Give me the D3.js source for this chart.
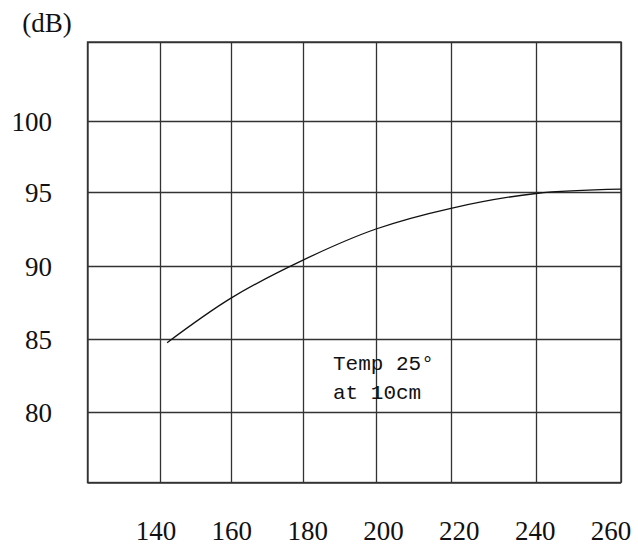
<!DOCTYPE html>
<html>
<head>
<meta charset="utf-8">
<script src="https://cdn.jsdelivr.net/npm/d3@7"></script>
<style>
  body { margin: 0; background: #fff; }
  svg { display: block; }
</style>
</head>
<body>
<div id="chart"></div>
<script>
// SPL vs frequency curve (grid chart)

const xGrid = [120, 140, 160, 180, 200, 220, 240, 260];
const xLabels = [140, 160, 180, 200, 220, 240, 260];
const yGrid = [75, 80, 85, 90, 95, 100, 105];
const yLabels = [80, 85, 90, 95, 100];

const freq = [142, 160, 180, 200, 220, 240, 260];
const spl  = [84.75, 87.8, 90.4, 92.5, 93.9, 94.9, 95.2];

const noteLines = ["Temp 25°", "at 10cm"];

const width = 638, height = 545;

const svg = d3.select("#chart")
    .append("svg")
    .attr("width", width)
    .attr("height", height);

// the printed grid is not evenly spaced, so the scales are piecewise
const x = d3.scaleLinear()
    .domain(xGrid)
    .range([87.5, 160, 231, 303, 376, 451, 536, 621]);

// tick labels in the original sit on their own even spacing
const xLab = d3.scaleLinear()
    .domain([140, 260])
    .range([156, 611]);

const y = d3.scaleLinear()
    .domain(yGrid)
    .range([482.5, 412, 339, 266, 192, 121, 42]);

const plotTop = y(105), plotBottom = y(75), plotLeft = x(120), plotRight = x(260);

// vertical grid
svg.append("g")
    .attr("transform", `translate(0,${plotBottom})`)
    .call(d3.axisBottom(x).tickValues(xGrid).tickSize(-(plotBottom - plotTop)).tickFormat(""))
    .call(g => g.select(".domain").remove())
    .call(g => g.selectAll("line").attr("stroke", "#333").attr("stroke-width", 1.3));

// horizontal grid
svg.append("g")
    .attr("transform", `translate(${plotLeft},0)`)
    .call(d3.axisLeft(y).tickValues(yGrid).tickSize(-(plotRight - plotLeft)).tickFormat(""))
    .call(g => g.select(".domain").remove())
    .call(g => g.selectAll("line").attr("stroke", "#333").attr("stroke-width", 1.3));

// border
svg.append("rect")
    .attr("x", plotLeft)
    .attr("y", plotTop)
    .attr("width", plotRight - plotLeft)
    .attr("height", plotBottom - plotTop)
    .attr("fill", "none")
    .attr("stroke", "#333")
    .attr("stroke-width", 1.4);

const serif = "'Liberation Serif', 'Times New Roman', serif";

// y labels
svg.append("g")
    .selectAll("text")
    .data(yLabels)
    .join("text")
    .attr("x", 52)
    .attr("y", d => y(d) + 10)
    .attr("text-anchor", "end")
    .style("font-family", serif)
    .style("font-size", "27px")
    .style("fill", "#111")
    .text(d => d);

// x labels
svg.append("g")
    .selectAll("text")
    .data(xLabels)
    .join("text")
    .attr("x", d => xLab(d))
    .attr("y", 540)
    .attr("text-anchor", "middle")
    .style("font-family", serif)
    .style("font-size", "27px")
    .style("fill", "#111")
    .text(d => d);

// unit
svg.append("text")
    .attr("x", 47)
    .attr("y", 32)
    .attr("text-anchor", "middle")
    .style("font-family", serif)
    .style("font-size", "27px")
    .style("fill", "#111")
    .text("(dB)");

// curve
const line = d3.line()
    .x((d, i) => x(freq[i]))
    .y(d => y(d))
    .curve(d3.curveCatmullRom);

svg.append("path")
    .datum(spl)
    .attr("d", line)
    .attr("fill", "none")
    .attr("stroke", "#111")
    .attr("stroke-width", 1.3);

// note
svg.append("g")
    .selectAll("text")
    .data(noteLines)
    .join("text")
    .attr("x", 333)
    .attr("y", (d, i) => 370 + i * 29)
    .style("font-family", "'Liberation Mono', 'DejaVu Sans Mono', monospace")
    .style("font-size", "21px")
    .style("fill", "#111")
    .text(d => d);
</script>
</body>
</html>
